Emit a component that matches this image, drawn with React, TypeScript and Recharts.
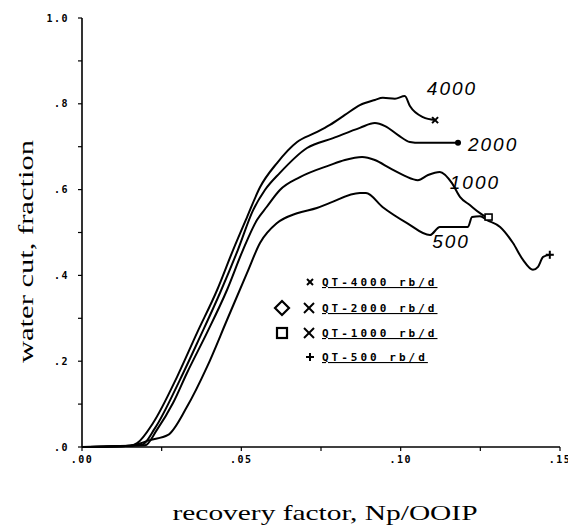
import React from 'react';
import { LineChart, Line, XAxis, YAxis, ReferenceDot, Legend, Label } from 'recharts';

// ---- data ----
const x4000 = [0, 0.0151, 0.0173, 0.0223, 0.0298, 0.0361, 0.0424, 0.0474, 0.0518, 0.0559, 0.0612, 0.0675, 0.0731, 0.0778, 0.0825, 0.0872, 0.0919, 0.0944, 0.0982, 0.1013, 0.1029, 0.107, 0.1108];
const y4000 = [0, 0.003, 0.009, 0.056, 0.163, 0.266, 0.366, 0.459, 0.536, 0.606, 0.662, 0.711, 0.732, 0.751, 0.774, 0.797, 0.809, 0.814, 0.812, 0.818, 0.795, 0.769, 0.762];

const x2000 = [0, 0.0151, 0.0188, 0.0229, 0.0307, 0.037, 0.0433, 0.0489, 0.0537, 0.0574, 0.0621, 0.0706, 0.0788, 0.0872, 0.0919, 0.0951, 0.0992, 0.1029, 0.1061, 0.118];
const y2000 = [0, 0.003, 0.005, 0.044, 0.156, 0.256, 0.359, 0.459, 0.552, 0.599, 0.639, 0.697, 0.72, 0.744, 0.755, 0.748, 0.727, 0.711, 0.709, 0.709];

const x1000 = [0, 0.0151, 0.0198, 0.0235, 0.0286, 0.0329, 0.0392, 0.0455, 0.0505, 0.0549, 0.058, 0.0621, 0.0684, 0.0778, 0.0825, 0.0879, 0.0919, 0.0966, 0.1013, 0.1054, 0.1086, 0.1123, 0.1161, 0.1186, 0.1217, 0.1249, 0.1268];
const y1000 = [0, 0.003, 0.004, 0.04, 0.103, 0.172, 0.266, 0.366, 0.459, 0.529, 0.56, 0.599, 0.629, 0.657, 0.669, 0.676, 0.669, 0.65, 0.632, 0.622, 0.634, 0.641, 0.615, 0.583, 0.564, 0.545, 0.536];

const x500 = [0, 0.0151, 0.0213, 0.027, 0.0329, 0.0392, 0.0455, 0.0518, 0.0559, 0.0612, 0.0675, 0.0737, 0.0778, 0.0872, 0.0891, 0.0944, 0.102, 0.1092, 0.1123, 0.1155, 0.1211, 0.1224, 0.1249, 0.1271, 0.1312, 0.1352, 0.1384, 0.1415, 0.1431, 0.1447, 0.1468];
const y500 = [0, 0.003, 0.016, 0.028, 0.093, 0.186, 0.296, 0.406, 0.476, 0.522, 0.545, 0.557, 0.569, 0.592, 0.592, 0.559, 0.522, 0.494, 0.513, 0.513, 0.513, 0.536, 0.538, 0.529, 0.513, 0.476, 0.436, 0.413, 0.42, 0.443, 0.448];

const xTickValues = [0, 0.025, 0.05, 0.075, 0.1, 0.125, 0.15];
const xTickLabels = ['.00', '', '.05', '', '.10', '', '.15'];
const yTickValues = [0, 0.1, 0.2, 0.3, 0.4, 0.5, 0.6, 0.7, 0.8, 0.9, 1.0];
const yTickLabels = ['.0', '', '.2', '', '.4', '', '.6', '', '.8', '', '1.0'];

const curveLabelNames = ['4000', '2000', '1000', '500'];
const curveLabelX = [0.1161, 0.129, 0.1233, 0.1158];
const curveLabelY = [0.837, 0.706, 0.618, 0.48];

const legendLabels = ['QT-4000 rb/d', 'QT-2000 rb/d', 'QT-1000 rb/d', 'QT-500 rb/d'];

const xTitle = 'recovery factor, Np/OOIP';
const yTitle = 'water cut, fraction';

const toSeries = (xs: number[], ys: number[]) => xs.map((x, i) => ({ x, y: ys[i] }));
const s4000 = toSeries(x4000, y4000);
const s2000 = toSeries(x2000, y2000);
const s1000 = toSeries(x1000, y1000);
const s500 = toSeries(x500, y500);

const tickStyle = { fill: '#000', fontSize: 10, fontFamily: 'DejaVu Sans Mono', fontWeight: 'bold', letterSpacing: 1.5 };

const makeEndDot = (kind: string, last: number) => (props: any) => {
  const { cx, cy, index } = props;
  if (index !== last || cx == null) return <g key={`d${index}`} />;
  if (kind === 'x')
    return (
      <g key={`d${index}`} stroke="#000" strokeWidth={2}>
        <line x1={cx - 3} y1={cy - 3} x2={cx + 3} y2={cy + 3} />
        <line x1={cx - 3} y1={cy + 3} x2={cx + 3} y2={cy - 3} />
      </g>
    );
  if (kind === 'dot') return <circle key={`d${index}`} cx={cx} cy={cy} r={3} fill="#000" />;
  if (kind === 'square')
    return <rect key={`d${index}`} x={cx - 1} y={cy - 3} width={7} height={6} fill="#fff" stroke="#000" strokeWidth={1.6} />;
  return (
    <g key={`d${index}`} stroke="#000" strokeWidth={2}>
      <line x1={cx - 4} y1={cy} x2={cx + 4} y2={cy} />
      <line x1={cx} y1={cy - 4} x2={cx} y2={cy + 4} />
    </g>
  );
};

const LegendContent = () => {
  const rowY = [12, 38, 63, 87];
  const cross = (cx: number, cy: number, s: number, k: string) => (
    <g key={k} stroke="#000" strokeWidth={2}>
      <line x1={cx - s} y1={cy - s} x2={cx + s} y2={cy + s} />
      <line x1={cx - s} y1={cy + s} x2={cx + s} y2={cy - s} />
    </g>
  );
  return (
    <svg width={220} height={100} style={{ display: 'block' }}>
      {cross(42, rowY[0], 3, 'c0')}
      <polygon points={`14,${rowY[1] - 7} 21,${rowY[1]} 14,${rowY[1] + 7} 7,${rowY[1]}`} fill="none" stroke="#000" strokeWidth={2.2} />
      {cross(41, rowY[1], 5, 'c1')}
      <rect x={9} y={rowY[2] - 5} width={10} height={10} fill="none" stroke="#000" strokeWidth={2.2} />
      {cross(41, rowY[2], 5, 'c2')}
      <g stroke="#000" strokeWidth={2}>
        <line x1={38} y1={rowY[3]} x2={46} y2={rowY[3]} />
        <line x1={42} y1={rowY[3] - 4} x2={42} y2={rowY[3] + 4} />
      </g>
      {legendLabels.map((t, i) => (
        <text
          key={t}
          x={54}
          y={rowY[i] + 4}
          fontFamily="DejaVu Sans Mono"
          fontWeight="bold"
          fontSize={11}
          letterSpacing={3}
          textDecoration="underline"
          fill="#000"
        >
          {t}
        </text>
      ))}
    </svg>
  );
};

const XTitle = (props: any) => {
  const vb = props.viewBox || { x: 74, y: 439, width: 478, height: 30 };
  return (
    <text
      x={vb.x + vb.width / 2 + 4}
      y={vb.y + 73}
      textAnchor="middle"
      fontFamily="Liberation Serif"
      fontSize={21}
      fill="#000"
      textLength={305}
      lengthAdjust="spacingAndGlyphs"
    >
      {xTitle}
    </text>
  );
};

const YTitle = (props: any) => {
  const vb = props.viewBox || { x: 0, y: 10, width: 74, height: 429 };
  const cx = vb.x + 25;
  const cy = vb.y + vb.height / 2 + 19;
  return (
    <text
      x={cx}
      y={cy}
      transform={`rotate(-90, ${cx}, ${cy})`}
      textAnchor="middle"
      fontFamily="Liberation Serif"
      fontSize={21}
      fill="#000"
      textLength={223}
      lengthAdjust="spacingAndGlyphs"
    >
      {yTitle}
    </text>
  );
};

export default function App() {
  return (
    <div style={{ width: 568, height: 523, background: '#fff' }}>
      <LineChart width={568} height={523} margin={{ top: 10, right: 16, left: 0, bottom: 54 }}>
        <XAxis
          xAxisId="b"
          type="number"
          dataKey="x"
          domain={[0, 0.15]}
          ticks={xTickValues}
          tickFormatter={(v: number) => xTickLabels[xTickValues.findIndex((t) => Math.abs(t - v) < 1e-9)] ?? ''}
          tick={tickStyle}
          tickSize={4}
          tickMargin={5}
          axisLine={{ stroke: '#000', strokeWidth: 1.6 }}
          tickLine={{ stroke: '#000', strokeWidth: 1.2 }}
          height={30}
          interval={0}
          allowDataOverflow
        >
          <Label content={XTitle} />
        </XAxis>
        <XAxis xAxisId="t" orientation="top" type="number" dataKey="x" domain={[0, 0.15]} tick={false} tickLine={false} height={0} axisLine={{ stroke: '#000', strokeWidth: 1.6 }} />
        <YAxis
          yAxisId="l"
          type="number"
          domain={[0, 1]}
          ticks={yTickValues}
          tickFormatter={(v: number) => yTickLabels[yTickValues.findIndex((t) => Math.abs(t - v) < 1e-9)] ?? ''}
          tick={tickStyle}
          tickSize={4}
          tickMargin={9}
          axisLine={{ stroke: '#000', strokeWidth: 1.6 }}
          tickLine={{ stroke: '#000', strokeWidth: 1.2 }}
          width={74}
          interval={0}
        >
          <Label content={YTitle} />
        </YAxis>
        <YAxis yAxisId="r" orientation="right" type="number" domain={[0, 1]} tick={false} tickLine={false} width={0} axisLine={{ stroke: '#000', strokeWidth: 1.6 }} />
        <Legend layout="vertical" align="center" verticalAlign="middle" content={LegendContent} wrapperStyle={{ position: 'absolute', left: 260, top: 262, width: 220, height: 100 }} />
        <Line xAxisId="b" yAxisId="l" data={s4000} dataKey="y" name="QT-4000" type="monotone" stroke="#000" strokeWidth={2} dot={makeEndDot('x', s4000.length - 1)} isAnimationActive={false} />
        <Line xAxisId="b" yAxisId="l" data={s2000} dataKey="y" name="QT-2000" type="monotone" stroke="#000" strokeWidth={2} dot={makeEndDot('dot', s2000.length - 1)} isAnimationActive={false} />
        <Line xAxisId="b" yAxisId="l" data={s1000} dataKey="y" name="QT-1000" type="monotone" stroke="#000" strokeWidth={2} dot={makeEndDot('square', s1000.length - 1)} isAnimationActive={false} />
        <Line xAxisId="b" yAxisId="l" data={s500} dataKey="y" name="QT-500" type="monotone" stroke="#000" strokeWidth={2} dot={makeEndDot('plus', s500.length - 1)} isAnimationActive={false} />
        {curveLabelNames.map((n, i) => (
          <ReferenceDot
            key={n}
            xAxisId="b"
            yAxisId="l"
            x={curveLabelX[i]}
            y={curveLabelY[i]}
            r={1}
            fill="none"
            stroke="none"
            label={{ value: n, position: 'center', fill: '#000', fontSize: 19, fontStyle: 'italic', fontFamily: 'Liberation Sans', letterSpacing: 2 }}
          />
        ))}
      </LineChart>
    </div>
  );
}
